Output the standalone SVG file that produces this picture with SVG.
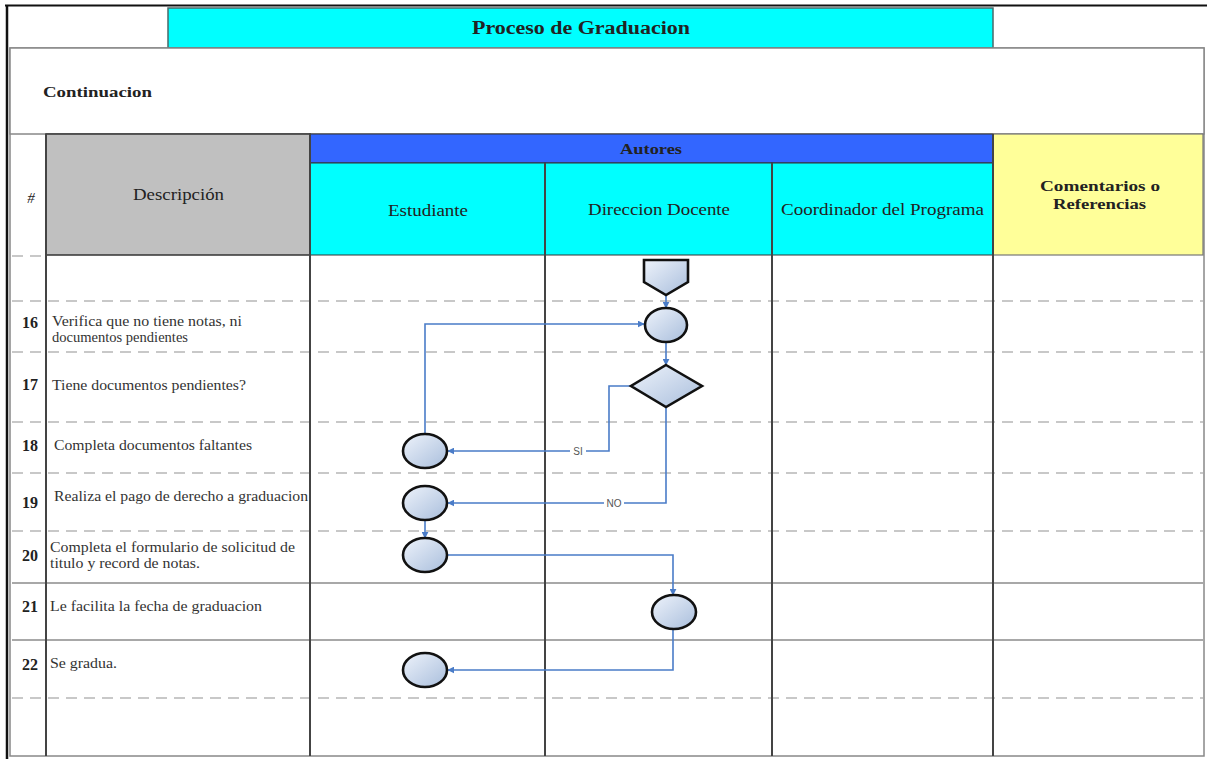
<svg xmlns="http://www.w3.org/2000/svg" width="1207" height="759" viewBox="0 0 1207 759">
<defs>
<linearGradient id="g" x1="0" y1="0" x2="1" y2="1">
<stop offset="0" stop-color="#eef3fb"/>
<stop offset="1" stop-color="#a9bedc"/>
</linearGradient>
<marker id="ah" viewBox="0 0 10 10" refX="9" refY="5" markerWidth="7" markerHeight="7" orient="auto" markerUnits="userSpaceOnUse">
<path d="M0,0 L10,5 L0,10 z" fill="#4a7cc8"/>
</marker>
<style>
.t{font-family:"Liberation Serif","Times New Roman",serif;fill:#222}
.b{font-weight:bold}
.d{font-family:"Liberation Serif","Times New Roman",serif;font-size:14px;fill:#333}
.n{font-family:"Liberation Serif","Times New Roman",serif;font-size:16px;font-weight:bold;fill:#222}
.dash{stroke:#c8c8c8;stroke-width:2.2;stroke-dasharray:11 7;fill:none}
.sol{stroke:#a8a8a8;stroke-width:1.8;fill:none}
.vl{stroke:#444;stroke-width:2;fill:none}
.shape{fill:url(#g);stroke:#111;stroke-width:2.6}
.c{stroke:#4a7cc8;stroke-width:1.6;fill:none}
.lbl{font-family:"Liberation Sans",Arial,sans-serif;font-size:10px;fill:#555}
</style>
</defs>
<rect x="0" y="0" width="1207" height="759" fill="#fff"/>
<g id="frame">
<line x1="5" y1="5.5" x2="1207" y2="5.5" stroke="#111" stroke-width="2"/>
<line x1="7" y1="5" x2="7" y2="759" stroke="#111" stroke-width="2.5"/>
<rect x="10" y="48" width="1194" height="708" fill="none" stroke="#888" stroke-width="1.5"/>
</g>
<g id="title">
<rect x="168" y="8" width="825" height="40" fill="#00ffff" stroke="#4a6a6a" stroke-width="1.5"/>
<text class="t b" x="472" y="34" font-size="18" textLength="218" lengthAdjust="spacingAndGlyphs">Proceso de Graduacion</text>
</g>
<g id="continuacion">
<rect x="10" y="48" width="1194" height="86" fill="#fff" stroke="#888" stroke-width="1.5"/>
<text class="t b" x="43" y="97" font-size="15" textLength="109" lengthAdjust="spacingAndGlyphs">Continuacion</text>
</g>
<g id="header">
<rect x="46" y="134" width="264" height="121" fill="#c0c0c0" stroke="#333" stroke-width="1.5"/>
<text class="t" x="133" y="200" font-size="16" textLength="91" lengthAdjust="spacingAndGlyphs" fill="#333">Descripción</text>
<text class="t" x="31" y="203" font-size="15" font-style="italic" text-anchor="middle">#</text>
<rect x="310" y="134" width="683" height="29" fill="#3366ff" stroke="#333" stroke-width="1"/>
<text class="t b" x="620" y="154" font-size="15" textLength="62" lengthAdjust="spacingAndGlyphs">Autores</text>
<rect x="310" y="163" width="235" height="92" fill="#00ffff" stroke="#333" stroke-width="1"/>
<rect x="545" y="163" width="227" height="92" fill="#00ffff" stroke="#333" stroke-width="1"/>
<rect x="772" y="163" width="221" height="92" fill="#00ffff" stroke="#333" stroke-width="1"/>
<text class="t" x="388" y="216" font-size="16" textLength="80" lengthAdjust="spacingAndGlyphs" fill="#333">Estudiante</text>
<text class="t" x="588" y="215" font-size="16" textLength="142" lengthAdjust="spacingAndGlyphs" fill="#333">Direccion Docente</text>
<text class="t" x="781" y="215" font-size="16" textLength="203" lengthAdjust="spacingAndGlyphs" fill="#333">Coordinador del Programa</text>
<rect x="993" y="134" width="210" height="121" fill="#ffff99" stroke="#777" stroke-width="1.2"/>
<text class="t b" x="1040" y="191" font-size="15" textLength="120" lengthAdjust="spacingAndGlyphs">Comentarios o</text>
<text class="t b" x="1053" y="209" font-size="15" textLength="93" lengthAdjust="spacingAndGlyphs">Referencias</text>
</g>
<g id="grid">
<line class="dash" x1="12" y1="256" x2="46" y2="256"/>
<line class="dash" x1="12" y1="301" x2="1203" y2="301"/>
<line class="dash" x1="12" y1="352" x2="1203" y2="352"/>
<line class="dash" x1="12" y1="422" x2="1203" y2="422"/>
<line class="dash" x1="12" y1="473" x2="1203" y2="473"/>
<line class="dash" x1="12" y1="531" x2="1203" y2="531"/>
<line class="sol" x1="12" y1="583" x2="1203" y2="583"/>
<line class="sol" x1="12" y1="640" x2="1203" y2="640"/>
<line class="dash" x1="12" y1="698" x2="1203" y2="698"/>
<line class="vl" x1="46" y1="134" x2="46" y2="756"/>
<line class="vl" x1="310" y1="134" x2="310" y2="756"/>
<line class="vl" x1="545" y1="163" x2="545" y2="756" stroke="#666"/>
<line class="vl" x1="772" y1="163" x2="772" y2="756" stroke="#666"/>
<line class="vl" x1="993" y1="134" x2="993" y2="756"/>
</g>
<g id="rows">
<text class="n" x="30" y="328" text-anchor="middle">16</text>
<text class="d" x="52" y="326" textLength="190" lengthAdjust="spacingAndGlyphs">Verifica que no tiene notas, ni</text>
<text class="d" x="52" y="342" textLength="136" lengthAdjust="spacingAndGlyphs">documentos pendientes</text>
<text class="n" x="30" y="390" text-anchor="middle">17</text>
<text class="d" x="52" y="390" textLength="194" lengthAdjust="spacingAndGlyphs">Tiene documentos pendientes?</text>
<text class="n" x="30" y="451" text-anchor="middle">18</text>
<text class="d" x="54" y="450" textLength="198" lengthAdjust="spacingAndGlyphs">Completa documentos faltantes</text>
<text class="n" x="30" y="508" text-anchor="middle">19</text>
<text class="d" x="54" y="501" textLength="254" lengthAdjust="spacingAndGlyphs">Realiza el pago de derecho a graduacion</text>
<text class="n" x="30" y="561" text-anchor="middle">20</text>
<text class="d" x="50" y="552" textLength="245" lengthAdjust="spacingAndGlyphs">Completa el formulario de solicitud de</text>
<text class="d" x="50" y="568" textLength="150" lengthAdjust="spacingAndGlyphs">titulo y record de notas.</text>
<text class="n" x="30" y="612" text-anchor="middle">21</text>
<text class="d" x="50" y="611" textLength="212" lengthAdjust="spacingAndGlyphs">Le facilita la fecha de graduacion</text>
<text class="n" x="30" y="670" text-anchor="middle">22</text>
<text class="d" x="50" y="668" textLength="67" lengthAdjust="spacingAndGlyphs">Se gradua.</text>
</g>
<g id="connectors">
<line class="c" x1="666" y1="295" x2="666" y2="308" marker-end="url(#ah)"/>
<line class="c" x1="666" y1="342" x2="666" y2="365" marker-end="url(#ah)"/>
<polyline class="c" points="631,386 609,386 609,451 448,451" marker-end="url(#ah)"/>
<polyline class="c" points="666,407 666,503 448,503" marker-end="url(#ah)"/>
<polyline class="c" points="425,434 425,324 644,324" marker-end="url(#ah)"/>
<line class="c" x1="425" y1="520" x2="425" y2="538" marker-end="url(#ah)"/>
<polyline class="c" points="447,555 673,555 673,595" marker-end="url(#ah)"/>
<polyline class="c" points="673,629 673,670 448,670" marker-end="url(#ah)"/>
<rect x="570" y="445" width="16" height="12" fill="#fff"/>
<text class="lbl" x="578" y="455" text-anchor="middle">SI</text>
<rect x="604" y="497" width="20" height="12" fill="#fff"/>
<text class="lbl" x="614" y="507" text-anchor="middle">NO</text>
</g>
<g id="n-offpage"><path class="shape" d="M644,260 L688,260 L688,282 L666,295 L644,282 Z"/></g>
<g id="n16"><ellipse class="shape" cx="666" cy="325" rx="21" ry="17"/></g>
<g id="n17"><path class="shape" d="M666,365 L702,386 L666,407 L631,386 Z"/></g>
<g id="n18"><ellipse class="shape" cx="425" cy="451" rx="22" ry="17"/></g>
<g id="n19"><ellipse class="shape" cx="425" cy="503" rx="22" ry="17"/></g>
<g id="n20"><ellipse class="shape" cx="425" cy="555" rx="22" ry="17"/></g>
<g id="n21"><ellipse class="shape" cx="674" cy="612" rx="22" ry="17"/></g>
<g id="n22"><ellipse class="shape" cx="425" cy="670" rx="22" ry="17"/></g>
</svg>
